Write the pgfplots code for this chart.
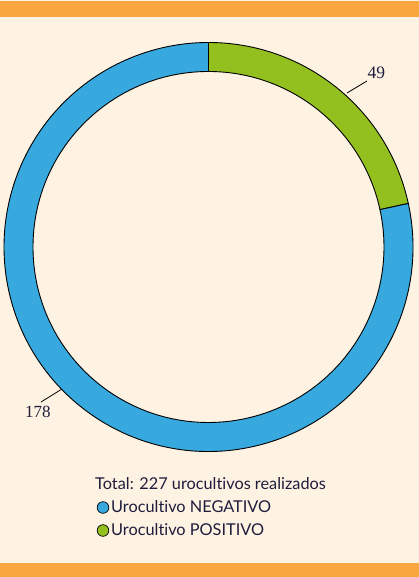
\documentclass[border=0pt]{standalone}
\usepackage{pgfplots}
\usepackage{pgfplotstable}
\pgfplotsset{compat=1.18}
\usepackage{fontspec}
\setmainfont[Ligatures=NoCommon]{Lato}
\newfontfamily\labelfont{Liberation Serif}
\definecolor{bgcream}{HTML}{FEF2E2}
\definecolor{barorange}{HTML}{F9A63F}
\definecolor{negblue}{HTML}{38A9DF}
\definecolor{posgreen}{HTML}{93C01F}
\definecolor{txt}{HTML}{1F1D3D}

\pgfplotstableread{
label value
NEGATIVO 178
POSITIVO 49
}\datatable

\begin{document}
\begin{tikzpicture}
\pgfplotstablegetelem{0}{value}\of\datatable \let\vneg\pgfplotsretval
\pgfplotstablegetelem{1}{value}\of\datatable \let\vpos\pgfplotsretval
\pgfmathsetmacro{\total}{\vneg+\vpos}
\pgfmathsetmacro{\posfrac}{\vpos/\total}
\pgfmathsetmacro{\aA}{90}
\pgfmathsetmacro{\aB}{90-360*\posfrac}
\pgfmathsetmacro{\aC}{90-360}
\def\cx{208.5}\def\cy{330}\def\Ro{204.5}\def\Ri{175.5}
\useasboundingbox (0,0) rectangle (419pt,577pt);
\fill[bgcream] (0,0) rectangle (419pt,577pt);
\fill[barorange] (0,560pt) rectangle (419pt,576pt);
\fill[barorange] (0,0) rectangle (419pt,14pt);
\begin{axis}[
  at={(0,0)}, anchor=south west,
  x=1pt, y=1pt, xmin=0, xmax=419, ymin=0, ymax=577,
  hide axis, clip=false,
]
% positive slice (green)
\filldraw[overlay, fill=posgreen, draw=black, line width=0.9pt]
  (axis cs:{\cx+\Ro*cos(\aA)},{\cy+\Ro*sin(\aA)})
  arc[start angle=\aA, end angle=\aB, radius=\Ro pt]
  -- (axis cs:{\cx+\Ri*cos(\aB)},{\cy+\Ri*sin(\aB)})
  arc[start angle=\aB, end angle=\aA, radius=\Ri pt] -- cycle;
% negative slice (blue)
\filldraw[overlay, fill=negblue, draw=black, line width=0.9pt]
  (axis cs:{\cx+\Ro*cos(\aB)},{\cy+\Ro*sin(\aB)})
  arc[start angle=\aB, end angle=\aC, radius=\Ro pt]
  -- (axis cs:{\cx+\Ri*cos(\aC)},{\cy+\Ri*sin(\aC)})
  arc[start angle=\aC, end angle=\aB, radius=\Ri pt] -- cycle;
% leader lines and labels
\draw[black, line width=0.8pt] (axis cs:347,484) -- (axis cs:367,496);
\node[anchor=base west, inner sep=0pt, text=txt, font=\labelfont\fontsize{17.5}{20}\selectfont] at (axis cs:367.5,498) {\vpos};
\draw[black, line width=0.8pt] (axis cs:62,188) -- (axis cs:41,175);
\node[anchor=base west, inner sep=0pt, text=txt, font=\labelfont\fontsize{17}{20}\selectfont] at (axis cs:25,159) {\vneg};
% legend
\node[anchor=base west, inner sep=0pt, text=txt, font=\fontsize{16.3}{19}\selectfont] at (axis cs:95,87) {Total: 227 urocultivos realizados};
\filldraw[fill=negblue, draw=black, line width=0.7pt] (axis cs:103,69.5) circle[radius=5.8pt];
\node[anchor=base west, inner sep=0pt, text=txt, font=\fontsize{16.3}{19}\selectfont] at (axis cs:111,64) {Urocultivo NEGATIVO};
\filldraw[fill=posgreen, draw=black, line width=0.7pt] (axis cs:103,46.5) circle[radius=5.8pt];
\node[anchor=base west, inner sep=0pt, text=txt, font=\fontsize{16.3}{19}\selectfont] at (axis cs:111,41) {Urocultivo POSITIVO};
\end{axis}
\end{tikzpicture}
\end{document}
